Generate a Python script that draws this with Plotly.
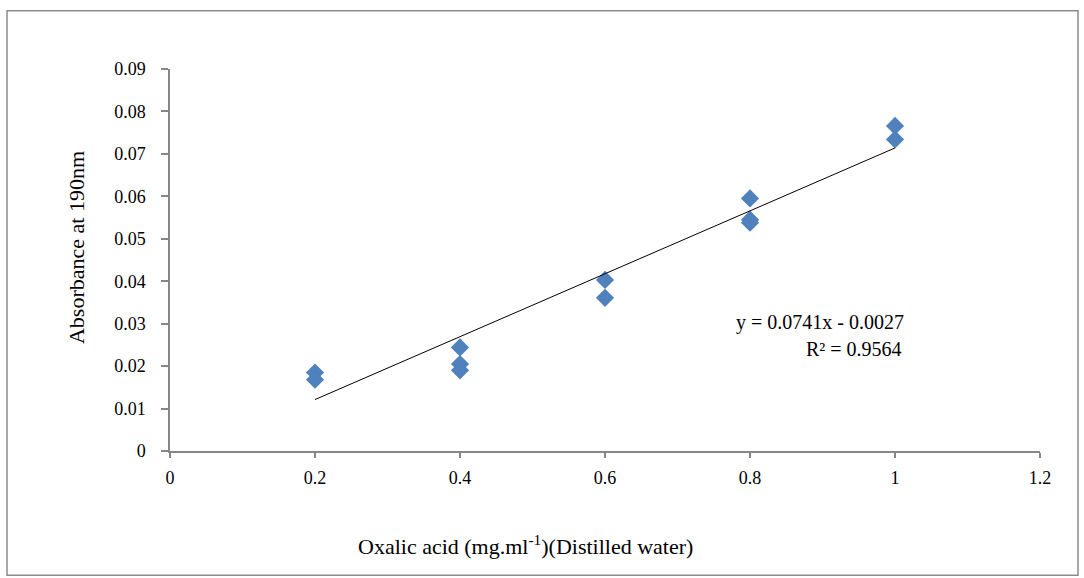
import plotly.graph_objects as go

# Oxalic acid standard curve: concentration (mg/ml) vs absorbance at 190 nm
concentration = [0.2, 0.2, 0.4, 0.4, 0.4, 0.6, 0.6, 0.8, 0.8, 0.8, 1.0, 1.0]
absorbance = [0.0185, 0.0168, 0.0244, 0.0205, 0.0190, 0.0403, 0.0361,
              0.0595, 0.0545, 0.0538, 0.0766, 0.0734]

# Linear trendline as reported on the chart
slope = 0.0741
intercept = -0.0027
r_squared = 0.9564
fit_x = [min(concentration), max(concentration)]
fit_y = [slope * v + intercept for v in fit_x]

x_ticks = [0, 0.2, 0.4, 0.6, 0.8, 1.0, 1.2]
y_ticks = [0, 0.01, 0.02, 0.03, 0.04, 0.05, 0.06, 0.07, 0.08, 0.09]

SERIF = "Liberation Serif, Times New Roman, serif"
AXIS_GREY = "#868686"

fig = go.Figure()
fig.add_trace(go.Scatter(
    x=concentration, y=absorbance, mode="markers",
    marker=dict(symbol="diamond", size=14, color="#4F81BD",
                line=dict(width=0)),
    showlegend=False, hoverinfo="x+y",
))
fig.add_trace(go.Scatter(
    x=fit_x, y=fit_y, mode="lines",
    line=dict(color="black", width=1),
    showlegend=False, hoverinfo="skip",
))

L, R, T, B = 170, 44, 68.5, 126.5
W, H = 1084, 578
pw, ph = W - L - R, H - T - B


def px_x(px):
    return (px - L) / pw


def px_y(py):
    return (H - B - py) / ph


fig.update_layout(
    width=W, height=H,
    margin=dict(l=L, r=R, t=T, b=B, pad=0),
    paper_bgcolor="white", plot_bgcolor="white",
    font=dict(family=SERIF, size=18, color="black"),
    xaxis=dict(
        range=[0, 1.2], tickvals=x_ticks, showgrid=False, zeroline=False,
        showline=True, linecolor=AXIS_GREY, linewidth=1.5,
        ticks="outside", ticklen=5, tickcolor=AXIS_GREY, tickwidth=1.5,
        ticklabelstandoff=5, tickfont=dict(size=18, family=SERIF),
    ),
    yaxis=dict(
        range=[0, 0.09], tickvals=y_ticks, showgrid=False, zeroline=False,
        showline=True, linecolor=AXIS_GREY, linewidth=1.5,
        ticks="outside", ticklen=7, tickcolor=AXIS_GREY, tickwidth=1.5,
        ticklabelstandoff=12, tickfont=dict(size=18, family=SERIF),
    ),
    shapes=[dict(
        type="rect", xref="paper", yref="paper",
        x0=px_x(7), x1=px_x(1078), y0=px_y(576), y1=px_y(10),
        line=dict(color="#8c8c8c", width=1.5), fillcolor="rgba(0,0,0,0)",
        layer="below",
    )],
    annotations=[
        dict(text="Oxalic acid (mg.ml<sup>-1</sup>)(Distilled water)",
             xref="paper", yref="paper", x=px_x(525), y=px_y(546),
             xanchor="center", yanchor="middle", showarrow=False,
             font=dict(size=22, family=SERIF)),
        dict(text="Absorbance at 190nm", textangle=-90,
             xref="paper", yref="paper", x=px_x(76), y=px_y(248),
             xanchor="center", yanchor="middle", showarrow=False,
             font=dict(size=22, family=SERIF)),
        dict(text=f"y = {slope}x - {abs(intercept):.4f}",
             xref="paper", yref="paper", x=px_x(906), y=px_y(323),
             xanchor="right", yanchor="middle", showarrow=False,
             font=dict(size=20, family=SERIF)),
        dict(text=f"R² = {r_squared}",
             xref="paper", yref="paper", x=px_x(904), y=px_y(349),
             xanchor="right", yanchor="middle", showarrow=False,
             font=dict(size=20, family=SERIF)),
    ],
)

fig.write_html("out.html")
